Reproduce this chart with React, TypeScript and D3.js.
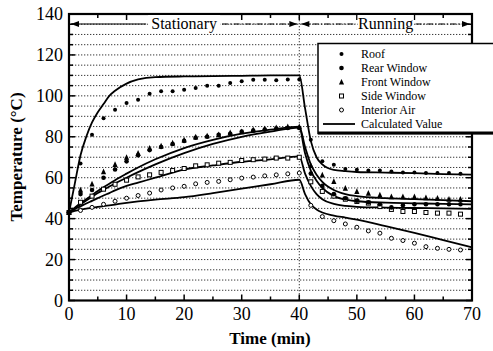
import React from 'react';
import * as d3 from 'd3';

const W = 493, H = 351;
const X0 = 69, X1 = 472, Y0 = 300.5, Y1 = 14;

const xTickLabels = [0, 10, 20, 30, 40, 50, 60, 70];
const yTickLabels = [0, 20, 40, 60, 80, 100, 120, 140];

const measTimes = [0, 2, 4, 6, 8, 10, 12, 14, 16, 18, 20, 22, 24, 26, 28, 30, 32, 34, 36, 38, 40, 42, 44, 46, 48, 50, 52, 54, 56, 58, 60, 62, 64, 66, 68];
const roofMeas = [43, 67, 81, 89, 93.2, 96.5, 98.1, 101, 102.2, 102.2, 103, 103.9, 105, 105, 106.3, 107.1, 107.9, 107.9, 107.6, 108, 108, 78.5, 68, 66.3, 64.2, 63.9, 63.5, 63.5, 63, 62.6, 62.6, 62.3, 62.3, 62.3, 61.9];
const rearMeas = [43, 52, 54, 60, 64, 68, 71, 73.5, 75, 76.5, 78, 79.5, 80, 81, 81.5, 82.5, 83, 83.5, 84, 84.3, 84.3, 62, 56, 52, 50, 48.8, 48, 47, 45.5, 46.5, 47, 47, 47, 47, 47];
const frontMeas = [43, 54, 57, 63, 66.5, 70, 72, 74.5, 75.5, 77, 78.5, 80, 80.5, 81, 82, 82.5, 83.5, 84, 84.5, 85, 85, 66, 61.4, 58.2, 54.9, 53.3, 52.5, 51.6, 50.8, 50.8, 50.8, 50.3, 50, 49.5, 49.5];
const sideMeas = [43, 48, 51, 54.4, 56.8, 58.8, 60.4, 61.4, 62.6, 63.5, 64.5, 65.8, 66.3, 67.1, 67.5, 68.4, 68.8, 69.1, 69.6, 69.6, 70, 58, 53.3, 51, 49.5, 48.4, 47.6, 45.9, 44.5, 43.5, 43.5, 43, 42.7, 42.7, 42.2];
const interiorMeas = [43, 44, 45.5, 47, 48.5, 50, 51.3, 52.5, 54, 55, 55.8, 57, 57.7, 58.2, 59, 59.8, 60.3, 60.9, 61.4, 61.9, 62.3, 46.5, 41, 39, 37.4, 35.8, 34, 32.9, 30.4, 29.3, 28, 26.3, 25.5, 25, 24.7];

const calcTimes = [0, 1, 2, 3, 4, 5, 6, 7, 8, 10, 12, 15, 20, 25, 30, 35, 40, 41, 42, 43, 44, 46, 48, 50, 55, 60, 65, 70];
const roofCalc = [43, 57, 71, 80, 87, 92, 96, 100, 102.5, 106, 108, 109.2, 109.5, 109.6, 109.8, 110, 110, 94, 78, 70, 66.5, 63.8, 63.2, 62.8, 62.5, 62.2, 61.8, 61.5];
const frontCalc = [43, 45.3, 47.5, 49.5, 51.5, 53.5, 55.3, 57, 58.8, 62, 65, 69, 74.5, 78.5, 81.5, 83.5, 85, 75, 66.5, 61.5, 58, 54, 52, 51, 50, 49.5, 49, 48.5];
const rearCalc = [43, 45, 47, 48.9, 50.7, 52.5, 54.1, 55.7, 57.2, 60, 62.7, 66.5, 72, 76.5, 80, 82.5, 84.5, 72, 63.5, 58.5, 55, 51, 49.3, 48.5, 47.8, 47.5, 47.2, 47];
const sideCalc = [43, 44.6, 46, 47.4, 48.7, 50, 51.3, 52.5, 53.8, 56, 57.6, 60, 64, 66, 67.8, 69, 70.4, 62, 56, 52, 49.5, 47.2, 46.2, 45.8, 45.4, 45.2, 45, 44.8];
const interiorCalc = [43, 43.8, 44.4, 44.9, 45.3, 45.7, 46.1, 46.5, 46.9, 47.7, 48.4, 49.3, 50.5, 52.5, 54.7, 56.8, 59, 52, 47, 44.5, 43, 41.5, 40.5, 39.5, 36.3, 33, 29.5, 26];

const legendLabels = ['Roof', 'Rear Window', 'Front Window', 'Side Window', 'Interior Air', 'Calculated Value'];

const FONT = "'Liberation Serif', 'Times New Roman', 'DejaVu Serif', serif";

type Kind = 'roof' | 'rear' | 'front' | 'side' | 'interior';

function Marker({ kind, cx, cy }: { kind: Kind; cx: number; cy: number }) {
  if (kind === 'roof') return <circle cx={cx} cy={cy} r={2} fill="#000" />;
  if (kind === 'rear') return <circle cx={cx} cy={cy} r={2.3} fill="#000" />;
  if (kind === 'front') {
    const s = 2.6;
    return <path d={`M${cx},${cy - s * 1.2}L${cx + s},${cy + s}L${cx - s},${cy + s}Z`} fill="#000" />;
  }
  if (kind === 'side') return <rect x={cx - 2} y={cy - 2} width={4} height={4} fill="#fff" stroke="#000" strokeWidth={1} />;
  return <circle cx={cx} cy={cy} r={2} fill="#fff" stroke="#000" strokeWidth={1} />;
}

export default function App() {
  const x = d3.scaleLinear().domain([0, 70]).range([X0, X1]);
  const y = d3.scaleLinear().domain([0, 140]).range([Y0, Y1]);
  const line = d3.line<[number, number]>().x(d => x(d[0])).y(d => y(d[1])).curve(d3.curveMonotoneX);

  const calcSeries = [roofCalc, frontCalc, rearCalc, sideCalc, interiorCalc];
  const measSeries: [Kind, number[]][] = [
    ['interior', interiorMeas], ['side', sideMeas], ['rear', rearMeas], ['front', frontMeas], ['roof', roofMeas],
  ];

  const gridVals = d3.range(5, 140, 5);
  const yMinor = d3.range(0, 141, 5);
  const xMinor = d3.range(0, 71, 5);

  const arrowY = 24;
  const legendKinds: Kind[] = ['roof', 'rear', 'front', 'side', 'interior'];
  const legendRows = [54, 68, 82, 96, 110, 124];
  const ts = { fontFamily: FONT };

  return (
    <svg width={W} height={H} style={{ position: 'absolute', left: 0, top: 0, background: '#fff', fontFamily: FONT }}>
      <rect x={0} y={0} width={W} height={H} fill="#fff" />
      {/* grid */}
      {gridVals.map(v => (
        <line key={'g' + v} x1={X0} x2={X1} y1={y(v)} y2={y(v)} stroke="#222" strokeWidth={0.9} strokeDasharray="1.3,1.7" />
      ))}
      <line x1={x(40)} x2={x(40)} y1={Y1} y2={Y0} stroke="#222" strokeWidth={0.9} strokeDasharray="1.3,1.7" />

      {/* ticks */}
      {yMinor.map(v => {
        const len = v % 20 === 0 ? 6 : 4;
        return (
          <g key={'yt' + v}>
            <line x1={X0} x2={X0 + len} y1={y(v)} y2={y(v)} stroke="#000" strokeWidth={1.5} />
            <line x1={X1} x2={X1 - len} y1={y(v)} y2={y(v)} stroke="#000" strokeWidth={1.5} />
          </g>
        );
      })}
      {xMinor.map(v => {
        const len = v % 10 === 0 ? 6 : 4;
        return (
          <g key={'xt' + v}>
            <line x1={x(v)} x2={x(v)} y1={Y0} y2={Y0 - len} stroke="#000" strokeWidth={1.5} />
            <line x1={x(v)} x2={x(v)} y1={Y1} y2={Y1 + len} stroke="#000" strokeWidth={1.5} />
          </g>
        );
      })}

      {/* calculated lines */}
      {calcSeries.map((s, i) => (
        <path key={'c' + i} d={line(calcTimes.map((t, j) => [t, s[j]]) as [number, number][]) || ''} fill="none" stroke="#000" strokeWidth={1.8} />
      ))}

      {/* measured */}
      {measSeries.map(([kind, vals]) => (
        <g key={kind}>
          {measTimes.map((t, j) => (
            <Marker key={j} kind={kind} cx={x(t)} cy={y(vals[j])} />
          ))}
        </g>
      ))}

      {/* frame */}
      <rect x={X0} y={Y1} width={X1 - X0} height={Y0 - Y1} fill="none" stroke="#000" strokeWidth={2.2} />

      {/* phase arrows */}
      <g stroke="#000" strokeWidth={1.2}>
        <line x1={X0 + 2} x2={x(20) - 38} y1={arrowY} y2={arrowY} />
        <line x1={x(20) + 38} x2={x(40) - 2} y1={arrowY} y2={arrowY} strokeDasharray="6,2,1.5,2" />
        <line x1={x(40) + 2} x2={x(55) - 30} y1={arrowY} y2={arrowY} strokeDasharray="6,2,1.5,2" />
        <line x1={x(55) + 30} x2={X1 - 2} y1={arrowY} y2={arrowY} strokeDasharray="6,2,1.5,2" />
      </g>
      <path d={`M${X0 + 2},${arrowY}l8,-3v6z`} fill="#000" />
      <path d={`M${x(40) - 2},${arrowY}l-8,-3v6z`} fill="#000" />
      <path d={`M${x(40) + 2},${arrowY}l8,-3v6z`} fill="#000" />
      <path d={`M${X1 - 2},${arrowY}l-8,-3v6z`} fill="#000" />
      <rect x={x(20) - 36} y={arrowY - 9} width={72} height={16} fill="#fff" />
      <text x={x(20)} y={arrowY + 5} textAnchor="middle" fontSize={16} style={ts}>Stationary</text>
      <rect x={x(55) - 28} y={arrowY - 9} width={56} height={16} fill="#fff" />
      <text x={x(55)} y={arrowY + 5} textAnchor="middle" fontSize={16} style={ts}>Running</text>

      {/* tick labels */}
      {yTickLabels.map(v => (
        <text key={'yl' + v} x={X0 - 6} y={y(v) + 6} textAnchor="end" fontSize={18} style={ts}>{v}</text>
      ))}
      {xTickLabels.map(v => (
        <text key={'xl' + v} x={x(v)} y={Y0 + 19} textAnchor="middle" fontSize={18} style={ts}>{v}</text>
      ))}

      {/* axis titles */}
      <text x={270} y={344} textAnchor="middle" fontSize={17} fontWeight="bold" style={ts}>Time (min)</text>
      <text transform={`translate(22,${157}) rotate(-90)`} textAnchor="middle" fontSize={17} fontWeight="bold" style={ts}>Temperature (°C)</text>

      {/* legend */}
      <rect x={318} y={43.5} width={180} height={90} fill="#fff" stroke="#000" strokeWidth={1.5} />
      <line x1={318} x2={W} y1={133} y2={133} stroke="#000" strokeWidth={3} />
      {legendKinds.map((k, i) => (
        <Marker key={'lm' + k} kind={k} cx={341.5} cy={legendRows[i]} />
      ))}
      <line x1={323} x2={355} y1={legendRows[5]} y2={legendRows[5]} stroke="#000" strokeWidth={1.8} />
      {legendLabels.map((l, i) => (
        <text key={'ll' + i} x={361} y={legendRows[i] + 4} fontSize={12} style={ts}>{l}</text>
      ))}
    </svg>
  );
}
